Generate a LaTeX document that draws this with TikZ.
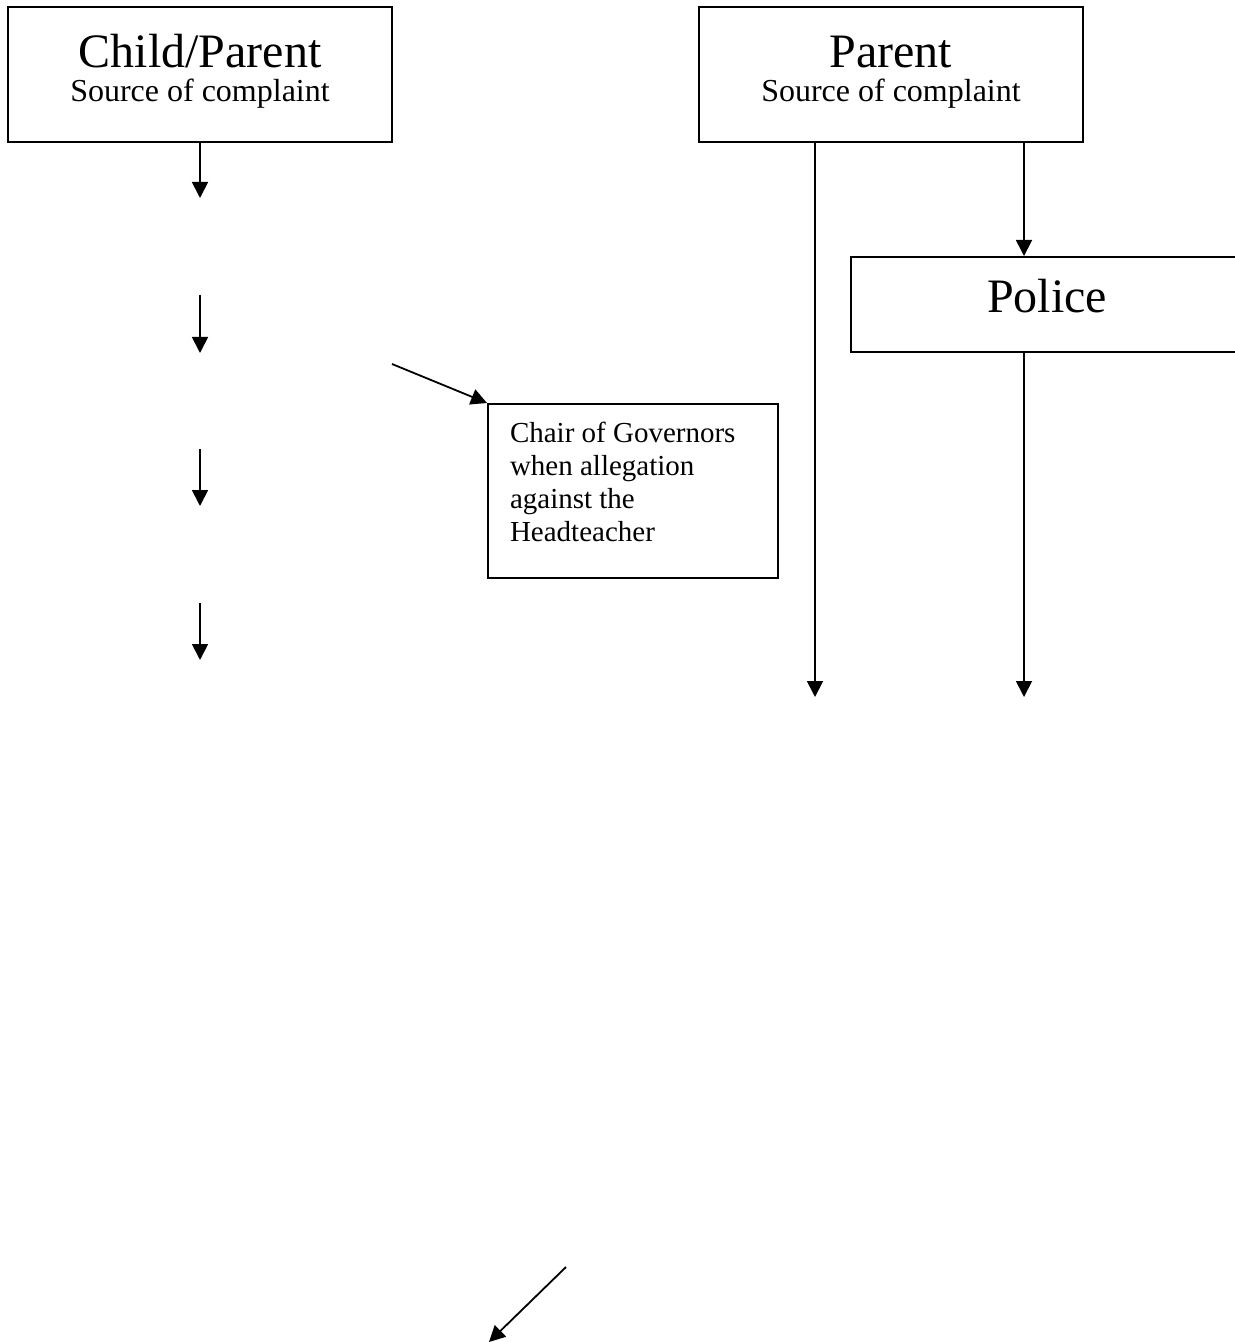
\documentclass[tikz,border=0pt]{standalone}
\usepackage{fontspec}
\setmainfont{Liberation Serif}
\usetikzlibrary{positioning,arrows.meta}

\begin{document}
\begin{tikzpicture}[x=0.5pt,y=-0.5pt,>={Triangle[length=8pt,width=8pt]}]

    %
    % Styles for boxes and arrows
    %
    \tikzstyle{source} = [draw, line width=1pt, rectangle, align=flush center, inner sep=0pt,
                          minimum width=192pt, minimum height=67.5pt, text width=190pt,
                          text height=30.5pt, text depth=37pt,
                          font={\fontsize{16pt}{17pt}\selectfont}]
    \tikzstyle{bigText} = [font={\fontsize{24pt}{28pt}\selectfont}]
    \tikzstyle{noteBox} = [draw, line width=1pt, rectangle, align=flush left, inner xsep=11pt, inner ysep=0pt,
                          minimum width=145pt, minimum height=87pt, text width=123pt,
                          text height=19pt, text depth=68pt,
                          font={\fontsize{14.5pt}{16.5pt}\selectfont}]
    \tikzstyle{flow} = [->, line width=0.9pt];

    \useasboundingbox (0,0) rectangle (1235,1342);
    \clip (0,0) rectangle (1235,1342);

    %
    % Position boxes
    %
    \node[source, name=child] at (200,74.5) {{\fontsize{24pt}{28pt}\selectfont Child/Parent}\\Source of complaint};
    \node[source, name=parent] at (891,74.5) {{\fontsize{24pt}{28pt}\selectfont Parent}\\Source of complaint};
    \node[draw, line width=1pt, rectangle, bigText, name=police, minimum width=196pt, minimum height=47.5pt,
          inner sep=0pt, text depth=9pt] at (1047,304.5) {Police};
    \node[noteBox, name=chair, anchor=north west] at (487,403) {Chair of Governors\\when allegation\\against the\\Headteacher};

    %
    % Loose arrow ends
    %
    \coordinate (stepA) at (200,198);
    \coordinate (stepBtop) at (200,295);
    \coordinate (stepB) at (200,353);
    \coordinate (stepCtop) at (200,449);
    \coordinate (stepC) at (200,506);
    \coordinate (stepDtop) at (200,603);
    \coordinate (stepD) at (200,660);
    \coordinate (toChair) at (392,364);
    \coordinate (leftRail) at (815,697);
    \coordinate (rightRail) at (1024,697);
    \coordinate (lowStart) at (566,1267);
    \coordinate (lowEnd) at (489,1342);

    %
    % Connect boxes via arrows
    %
    \draw[flow] (child) -- (stepA);
    \draw[flow] (stepBtop) -- (stepB);
    \draw[flow] (stepCtop) -- (stepC);
    \draw[flow] (stepDtop) -- (stepD);
    \draw[flow] (toChair) -- (chair.north west);

    \draw[flow] (parent.south -| leftRail) -- (leftRail);
    \draw[flow] (parent.south -| rightRail) -- (police.north -| rightRail);
    \draw[flow] (police.south -| rightRail) -- (rightRail);

    \draw[flow] (lowStart) -- (lowEnd);
  \end{tikzpicture}
\end{document}
